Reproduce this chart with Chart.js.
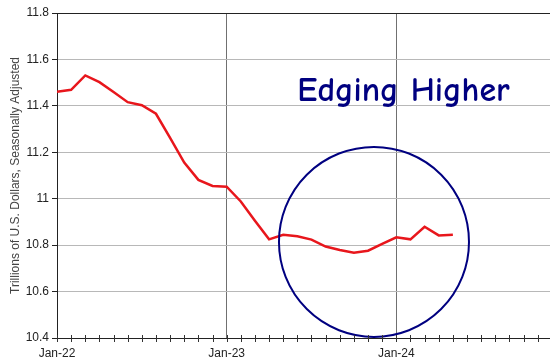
<!DOCTYPE html>
<html><head><meta charset="utf-8">
<script src="https://cdn.jsdelivr.net/npm/chart.js@4/dist/chart.umd.min.js"></script>
<style>html,body{margin:0;padding:0;background:#fff;}#wrap{width:550px;height:362px;position:relative;}</style>
</head><body><div id="wrap"><canvas id="c" width="550" height="362"></canvas></div>
<script>
// Month labels (Jan-22 .. May-24)
const months = ["Jan-22","Feb-22","Mar-22","Apr-22","May-22","Jun-22","Jul-22","Aug-22","Sep-22","Oct-22","Nov-22","Dec-22",
  "Jan-23","Feb-23","Mar-23","Apr-23","May-23","Jun-23","Jul-23","Aug-23","Sep-23","Oct-23","Nov-23","Dec-23",
  "Jan-24","Feb-24","Mar-24","Apr-24","May-24"];
// Trillions of U.S. dollars, seasonally adjusted
const values = [11.461,11.469,11.531,11.502,11.460,11.416,11.403,11.366,11.262,11.156,11.081,11.055,
  11.052,10.988,10.905,10.825,10.845,10.838,10.824,10.794,10.779,10.767,10.776,10.805,
  10.834,10.825,10.879,10.842,10.845];
const xTickLabels = ["Jan-22","Jan-23","Jan-24"];
const yTicks = [10.4,10.6,10.8,11,11.2,11.4,11.6,11.8];
const annotationText = "Edging Higher";
const circleCenter = {x: 22.42, y: 10.814};
const circleRadiusMonths = 6.72;

const points = values.map((v,i)=>({x:i,y:v}));

const minorTicks = {
  id:'minorTicks',
  afterDraw(chart){
    const ctx = chart.ctx, xs = chart.scales.x, ys = chart.scales.y;
    ctx.save();
    ctx.strokeStyle = '#333'; ctx.lineWidth = 1;
    for (let m = 0; m <= Math.floor(xs.max); m++) {
      const px = Math.round(xs.getPixelForValue(m)) + 0.5;
      ctx.beginPath(); ctx.moveTo(px, ys.bottom - 3); ctx.lineTo(px, ys.bottom + 4); ctx.stroke();
    }
    ctx.restore();
  }
};

const annot = {
  id:'annot',
  afterDatasetsDraw(chart){
    const ctx = chart.ctx, xs = chart.scales.x, ys = chart.scales.y;
    ctx.save();
    const cx = xs.getPixelForValue(circleCenter.x), cy = ys.getPixelForValue(circleCenter.y);
    const r = xs.getPixelForValue(circleCenter.x + circleRadiusMonths) - cx;
    ctx.strokeStyle = '#000080'; ctx.lineWidth = 2;
    ctx.beginPath(); ctx.arc(cx, cy, r, 0, Math.PI*2); ctx.stroke();
    let size = 28;
    ctx.font = 'bold ' + size + 'px "Comic Sans MS","Comic Neue","Lato",sans-serif';
    const w = ctx.measureText(annotationText).width;
    size = size * 212 / w;
    ctx.font = 'bold ' + size.toFixed(1) + 'px "Comic Sans MS","Comic Neue","Lato",sans-serif';
    ctx.fillStyle = '#000080'; ctx.textBaseline = 'alphabetic';
    ctx.fillText(annotationText, xs.getPixelForValue(17.0), ys.getPixelForValue(11.42));
    ctx.restore();
  }
};

new Chart(document.getElementById('c'), {
  type:'line',
  data:{ datasets:[{ data: points, borderColor:'#e8161c', borderWidth:2.5, pointRadius:0, tension:0, fill:false }] },
  options:{
    responsive:false, animation:false, devicePixelRatio:1,
    layout:{ padding:{ top:13, right:0, left:0, bottom:0 } },
    plugins:{ legend:{display:false}, tooltip:{enabled:false} },
    scales:{
      x:{
        type:'linear', min:0, max:34.87,
        afterFit(s){ s.height = 24; },
        afterBuildTicks(s){ s.ticks = [0,12,24].map(v=>({value:v})); },
        ticks:{ autoSkip:false, maxRotation:0, padding:8, color:'#222',
          font:{ family:'"Liberation Sans Narrow","Liberation Sans",Arial,sans-serif', size:12 },
          callback:(v)=> xTickLabels[v/12] },
        grid:{ drawTicks:false, color:(c)=> c.tick && c.tick.value>0 ? '#707070' : 'rgba(0,0,0,0)', lineWidth:1 },
        border:{ display:true, color:'#222', width:1 }
      },
      y:{
        min:10.4, max:11.8,
        afterFit(s){ s.width = 57; },
        afterBuildTicks(s){ s.ticks = yTicks.map(v=>({value:v})); },
        ticks:{ padding:3, color:'#222',
          font:{ family:'"Liberation Sans",Arial,sans-serif', size:12 },
          callback:(v)=> String(Math.round(v*10)/10) },
        grid:{ drawTicks:true, tickLength:5, tickColor:'#222',
          color:(c)=> c.tick && Math.abs(c.tick.value-11.8)<1e-6 ? '#222' : '#b8b8b8', lineWidth:1 },
        border:{ display:true, color:'#222', width:1 },
        title:{ display:true, text:'Trillions of U.S. Dollars, Seasonally Adjusted', color:'#444',
          font:{ family:'"Liberation Sans",Arial,sans-serif', size:12 }, padding:{top:8,bottom:0} }
      }
    }
  },
  plugins:[minorTicks, annot]
});
</script></body></html>
